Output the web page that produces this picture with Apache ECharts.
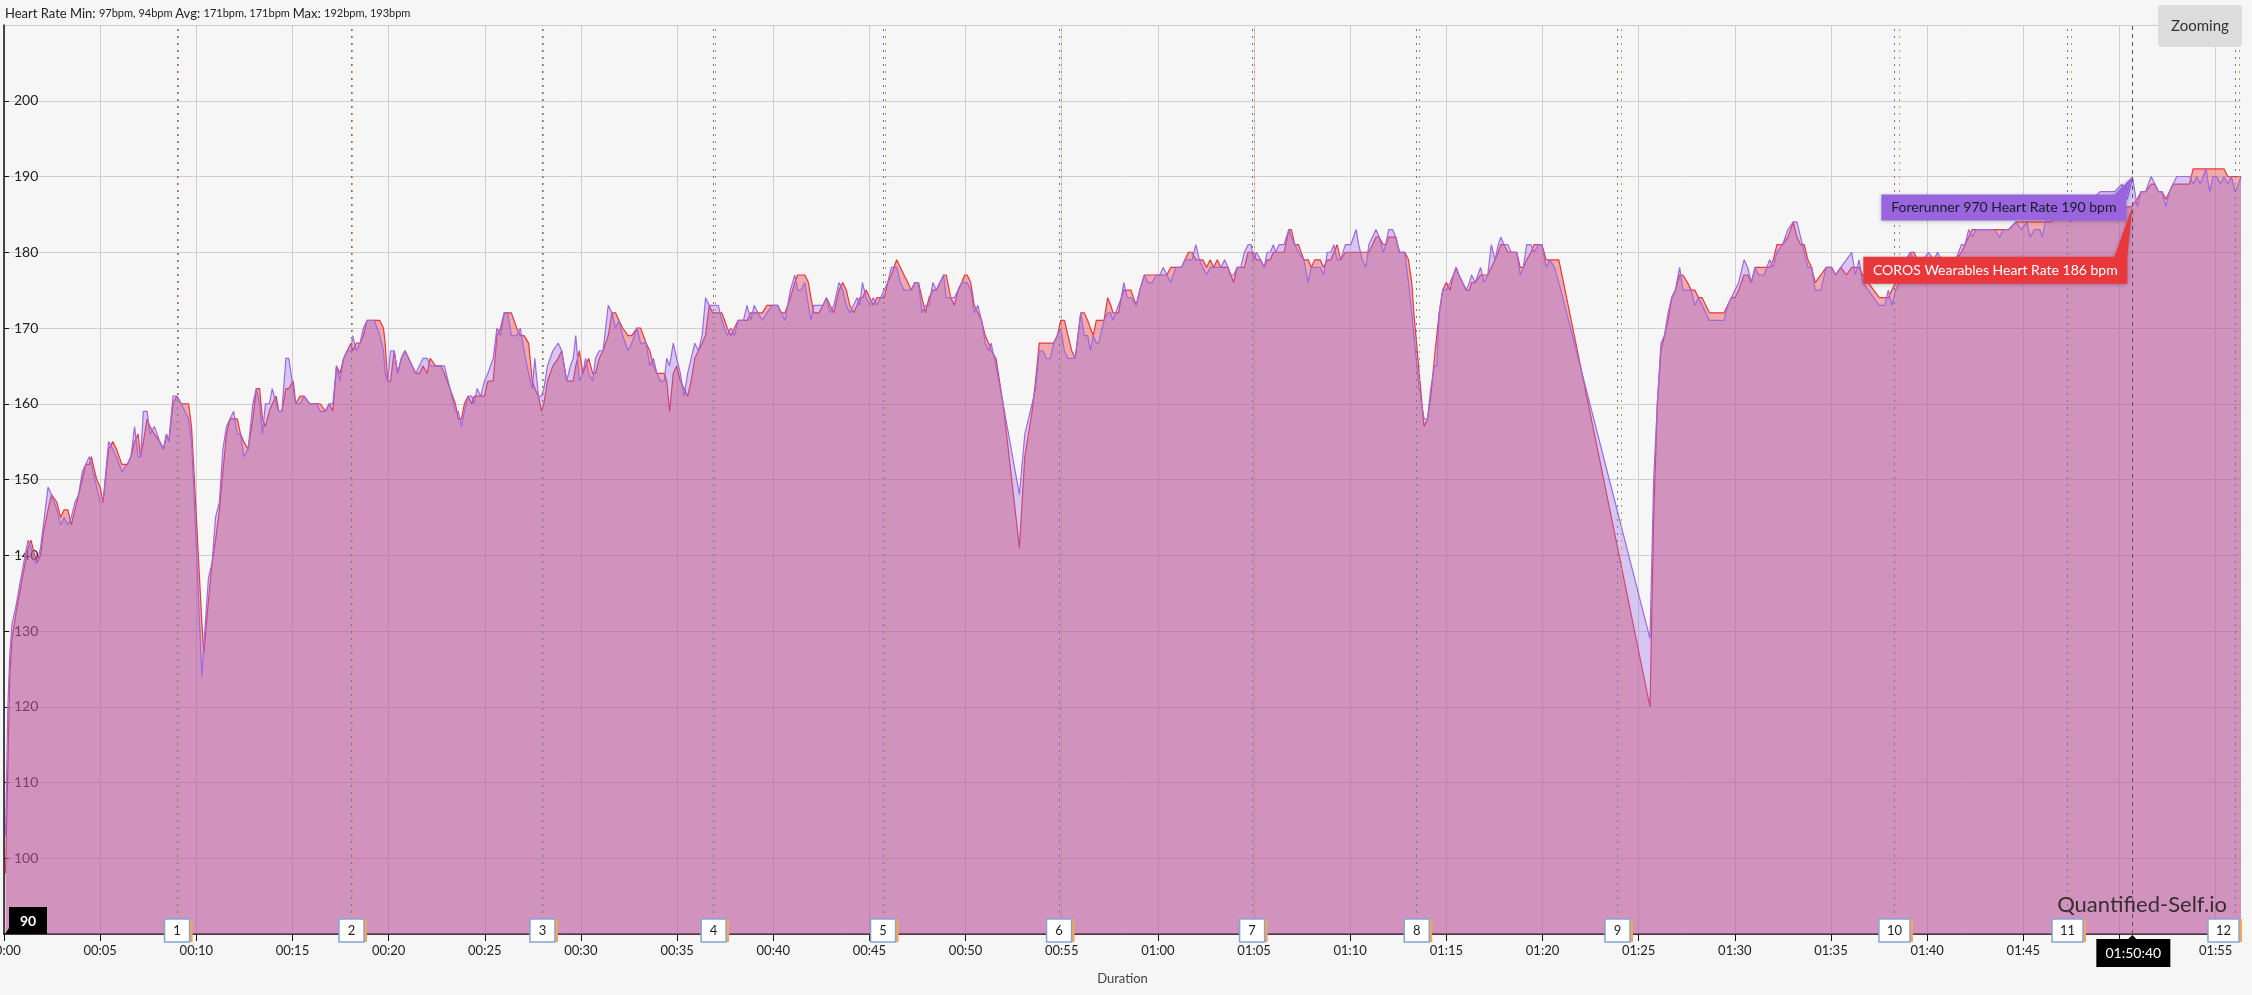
<!DOCTYPE html>
<html><head><meta charset="utf-8">
<script src="https://cdn.jsdelivr.net/npm/echarts@6/dist/echarts.min.js"></script>
<style>html,body{margin:0;padding:0;background:#f6f6f6;}#c{width:2252px;height:995px;}</style>
</head><body><div id="c"></div><script>
// ---- data (time in minutes, heart rate in bpm) ----
const timeMin = [
0.08,0.2,0.3,0.42,0.6,0.88,1.1,1.25,1.4,1.6,
1.72,1.9,2.05,2.29,2.47,2.75,2.94,3.13,3.32,3.5,
3.69,3.88,4.07,4.25,4.44,4.55,4.63,4.82,5.0,5.15,
5.44,5.66,5.85,6.13,6.41,6.6,6.79,6.97,7.1,7.25,
7.44,7.59,7.82,8.1,8.29,8.45,8.57,8.79,8.98,9.22,
9.6,9.75,9.88,10.29,10.39,10.63,10.82,11.0,11.2,11.38,
11.57,11.75,11.94,12.13,12.3,12.47,12.69,12.94,13.12,13.29,
13.44,13.59,13.8,13.95,14.15,14.29,14.45,14.66,14.81,15.04,
15.17,15.4,15.6,15.9,16.26,16.44,16.72,16.91,17.1,17.29,
17.47,17.66,17.85,18.04,18.13,18.32,18.51,18.69,18.88,19.26,
19.54,19.73,19.82,19.95,20.1,20.29,20.47,20.66,20.85,21.04,
21.41,21.6,21.79,22.0,22.16,22.44,22.72,22.9,23.19,23.47,
23.62,23.79,23.94,24.13,24.32,24.45,24.6,24.79,24.98,25.16,
25.44,25.63,25.82,26.01,26.19,26.38,26.66,26.85,27.04,27.28,
27.47,27.6,27.79,27.95,28.07,28.26,28.54,28.82,29.0,29.1,
29.26,29.45,29.6,29.73,29.92,30.1,30.24,30.4,30.61,30.76,
30.95,31.15,31.42,31.61,31.8,31.98,32.17,32.45,32.64,32.92,
33.1,33.39,33.58,33.77,33.95,34.14,34.33,34.46,34.61,34.8,
34.98,35.17,35.36,35.55,35.73,35.92,36.11,36.3,36.48,36.67,
36.85,37.14,37.33,37.47,37.61,37.8,37.98,38.17,38.45,38.64,
38.83,39.01,39.2,39.43,39.67,39.95,40.23,40.42,40.61,40.89,
41.12,41.27,41.45,41.64,41.83,41.96,42.11,42.39,42.58,42.77,
42.95,43.15,43.42,43.61,43.8,43.98,44.17,44.36,44.5,44.64,
44.83,45.02,45.2,45.39,45.58,45.77,45.95,46.14,46.42,46.61,
46.8,47.0,47.17,47.36,47.55,47.73,47.92,48.1,48.3,48.48,
48.67,48.86,48.99,49.23,49.42,49.61,49.8,49.95,50.08,50.27,
50.45,50.64,50.83,51.02,51.2,51.33,51.58,51.95,52.8,53.08,
53.27,53.46,53.64,53.83,54.02,54.2,54.4,54.58,54.77,54.95,
55.14,55.33,55.52,55.7,55.99,56.17,56.35,56.49,56.64,56.8,
56.92,57.2,57.39,57.55,57.67,57.8,57.95,58.1,58.23,58.4,
58.6,58.87,59.06,59.3,59.49,59.7,59.91,60.1,60.28,60.47,
60.66,60.94,61.22,61.41,61.59,61.78,61.97,62.16,62.34,62.53,
62.72,62.9,63.09,63.28,63.47,63.65,63.75,63.94,64.12,64.31,
64.5,64.69,64.85,64.97,65.12,65.34,65.53,65.68,65.85,66.0,
66.13,66.3,66.56,66.81,66.94,67.12,67.31,67.59,67.82,67.97,
68.16,68.44,68.62,68.81,69.0,69.15,69.32,69.5,69.75,70.03,
70.31,70.44,70.63,70.82,70.97,71.16,71.34,71.5,71.72,71.85,
72.0,72.2,72.37,72.56,72.84,73.03,73.2,73.31,73.59,73.84,
74.02,74.19,74.38,74.5,74.63,74.81,75.0,75.19,75.37,75.51,
75.65,75.84,76.03,76.2,76.31,76.5,76.78,76.97,77.15,77.34,
77.53,77.7,77.83,78.0,78.2,78.37,78.66,78.84,79.0,79.18,
79.4,79.56,79.78,79.97,80.19,80.38,80.62,80.85,85.59,85.78,
85.97,86.16,86.34,86.53,86.72,86.91,87.13,87.3,87.54,87.73,
87.92,88.11,88.3,88.49,88.68,88.87,89.06,89.25,89.44,89.63,
89.82,90.01,90.2,90.48,90.67,90.86,91.05,91.25,91.52,91.81,
92.0,92.19,92.48,92.76,93.04,93.23,93.42,93.61,93.8,93.99,
94.18,94.47,94.75,95.04,95.23,95.51,95.8,96.08,96.27,96.46,
96.65,96.94,97.22,97.51,97.79,97.98,98.17,98.36,98.55,98.74,
98.93,99.12,99.31,99.5,99.78,100.07,100.35,100.54,100.73,100.92,
101.2,101.49,101.78,101.97,102.16,102.35,102.54,102.73,102.92,103.2,
103.49,103.77,103.96,104.24,104.62,104.9,105.19,105.35,105.57,105.86,
105.99,106.14,106.43,106.71,106.9,107.09,107.47,107.85,108.23,108.61,
108.99,109.37,109.75,110.13,110.41,110.6,110.67,110.93,111.12,111.36,
111.65,111.84,112.03,112.22,112.41,112.6,112.79,112.98,113.17,113.4,
113.64,113.83,114.02,114.2,114.5,114.69,114.87,115.06,115.25,115.44,
115.63,115.82,116.01,116.2,116.32
];
const forerunnerHR = [
103,120,127,131,133,137,140,142,141,139,
139,141,144,149,148,146,144,145,144,145,
147,148,151,152,153,152,151,149,147,147,
155,154,153,151,152,153,157,153,153,159,
159,156,157,155,154,156,155,161,161,160,
158,155,148,124,128,137,139,145,147,154,
157,158,159,156,156,153,154,160,162,160,
156,160,160,162,160,159,159,166,166,162,
160,160,161,160,160,159,159,160,160,165,
163,166,167,167,169,167,168,170,171,171,
169,167,164,163,167,167,164,166,167,166,
164,165,166,166,165,165,165,165,162,159,
159,157,159,161,161,160,162,161,163,164,
166,170,169,172,172,169,169,170,167,164,
162,166,161,161,162,165,167,168,167,167,
163,165,166,169,163,164,166,164,163,166,
167,167,173,172,170,171,169,167,168,170,
168,168,165,166,164,163,163,166,165,168,
166,164,161,164,166,168,167,169,174,173,
173,173,171,170,169,170,169,171,171,173,
171,173,172,171,172,173,173,172,171,175,
177,175,175,176,173,171,173,173,173,174,
172,173,176,175,173,172,173,174,173,176,
174,173,174,173,174,175,176,178,178,176,
175,175,175,176,176,172,173,173,176,175,
176,177,174,174,174,175,176,176,176,175,
172,173,171,168,167,168,165,160,148,156,
158,160,162,167,167,166,166,168,169,170,
167,166,166,166,172,169,169,167,169,168,
168,171,172,172,171,172,173,174,176,174,
174,173,175,177,176,176,177,177,178,177,
176,178,178,179,179,179,181,179,178,177,
178,178,178,178,179,178,177,177,178,178,
180,181,181,179,180,179,178,180,180,181,
180,181,181,183,182,181,180,179,176,178,
178,178,177,180,180,181,179,179,181,181,
183,181,179,178,181,182,183,182,180,181,
183,183,182,180,180,176,172,169,162,158,
158,162,165,165,172,175,175,176,177,178,
177,176,175,176,177,176,178,176,177,181,
179,181,182,181,181,180,180,177,178,181,
181,180,181,181,178,179,178,176,129,150,
160,168,169,172,174,175,178,175,175,175,
173,174,173,172,171,171,171,171,171,173,
174,175,176,179,178,176,178,177,177,179,
178,180,181,183,184,184,182,180,178,178,
175,175,178,178,177,178,179,180,177,179,
176,175,174,173,173,175,173,175,176,177,
179,180,179,179,179,180,179,180,179,179,
179,179,181,181,183,182,183,183,183,183,
183,182,183,183,184,183,184,182,183,183,
182,184,185,185,185,186,184,186,186,187,
188,188,188,189,187,189,190,186,188,188,
190,189,188,188,186,188,189,190,190,190,
190,189,190,189,191,188,190,190,189,190,
189,190,188,189,190
];
const corosHR = [
98,112,124,129,132,136,139,141,142,140,
139,140,143,146,148,147,145,146,146,144,
146,148,150,152,152,153,152,150,149,147,
154,155,154,152,152,153,155,156,153,155,
158,157,156,155,154,156,155,160,161,160,
160,157,151,131,127,134,139,142,146,151,
156,158,158,158,156,155,154,158,162,162,
158,157,159,160,161,159,159,162,162,163,
160,161,161,160,160,160,159,160,159,165,
164,166,167,168,167,168,168,169,171,171,
171,170,168,163,163,167,164,166,167,166,
164,164,165,164,166,165,165,164,162,160,
158,158,160,161,160,161,161,161,161,163,
163,169,170,172,172,172,170,169,169,168,
163,162,161,159,160,163,165,166,167,167,
163,163,163,165,167,164,165,166,164,164,
166,167,169,172,172,171,170,169,169,170,
170,168,167,165,164,164,164,163,159,164,
165,163,162,161,163,166,167,168,169,173,
172,172,172,171,170,169,170,171,171,171,
172,172,172,172,173,173,173,172,172,174,
176,177,177,177,176,174,172,172,173,174,
173,172,175,176,175,173,172,173,174,174,
175,174,173,174,174,174,176,177,179,178,
177,176,175,176,176,174,172,174,175,175,
176,177,177,174,173,175,176,177,177,176,
173,172,171,169,168,167,166,160,141,153,
156,159,163,168,168,168,168,168,169,171,
171,169,167,166,172,172,171,170,169,171,
171,171,174,173,172,172,172,174,175,175,
175,173,175,177,177,177,177,177,177,177,
178,178,178,179,180,180,179,179,179,178,
179,178,179,178,178,178,178,176,178,178,
178,180,180,180,179,179,178,179,179,180,
180,180,180,183,183,181,181,179,179,178,
179,179,178,179,179,180,181,179,180,180,
180,180,180,180,180,181,182,182,181,181,
182,182,182,180,180,179,176,172,164,157,
158,161,166,169,172,175,176,175,177,178,
177,176,175,175,176,176,177,177,177,178,
179,180,181,181,180,180,180,178,178,179,
180,181,181,181,179,179,179,179,120,145,
160,167,169,171,174,175,177,177,176,175,
175,174,174,173,172,172,172,172,172,173,
174,174,175,177,177,176,178,178,178,178,
179,181,181,182,184,182,181,181,179,178,
176,177,178,178,177,178,177,178,178,178,
177,176,175,174,174,174,175,176,176,178,
179,180,180,179,179,179,179,179,179,179,
179,179,180,181,182,183,183,183,183,183,
183,183,183,183,184,184,184,184,184,184,
184,184,184,185,185,185,185,185,186,186,
186,186,186,186,186,186,186,187,188,188,
189,189,188,188,187,188,189,189,189,189,
189,191,191,191,191,191,191,191,191,191,
190,190,190,190,190
];
const seriesNames = ['COROS Wearables', 'Forerunner 970'];
const forerunnerLapTimes = [9.0, 18.07, 28.0, 36.9, 45.71, 54.86, 64.9, 73.46, 83.9, 98.3, 107.3, 116.0];
const corosLapTimes = [9.05, 18.12, 28.05, 36.97, 45.84, 54.99, 65.0, 73.6, 84.1, 98.55, 107.5, 116.25];
const lapLabels = ['1','2','3','4','5','6','7','8','9','10','11','12'];
const cursorTime = 110.67;
const cursorTimeLabel = '01:50:40';
const cursorForerunnerHR = 190;
const cursorCorosHR = 186;
const cursorYLabel = '90';
const titleParts = {name: 'Heart Rate', min: '97bpm, 94bpm', avg: '171bpm, 171bpm', max: '192bpm, 193bpm'};
const yMin = 90, yMax = 210, yStep = 10;
const xStep = 5;

// ---- chart ----
const FONT = 'Lato';
const pad2 = n => (n < 10 ? '0' : '') + n;
const fmtMin = v => pad2(Math.floor(v / 60)) + ':' + pad2(Math.round(v % 60));
const corosData = timeMin.map((t, i) => [t, corosHR[i]]);
const forerunnerData = timeMin.map((t, i) => [t, forerunnerHR[i]]);
const xMax = timeMin[timeMin.length - 1];

const chart = echarts.init(document.getElementById('c'));
const option = {
  animation: false,
  backgroundColor: '#f6f6f6',
  textStyle: {fontFamily: FONT},
  grid: {left: 4, right: 11, top: 25, bottom: 61, containLabel: false, outerBoundsMode: 'none'},
  xAxis: {
    type: 'value', min: 0, max: xMax, interval: xStep,
    name: 'Duration', nameLocation: 'middle', nameGap: 38,
    nameTextStyle: {fontFamily: FONT, fontSize: 13, color: '#444'},
    axisLine: {show: true, onZero: false, lineStyle: {color: '#111', width: 1.5}},
    axisTick: {show: true, inside: false, length: 7, lineStyle: {color: '#111'}},
    axisLabel: {formatter: fmtMin, fontFamily: FONT, fontSize: 13, color: '#222', margin: 10, showMaxLabel: false},
    splitLine: {show: true, showMaxLine: false, lineStyle: {color: '#cfcfcf', width: 1}}
  },
  yAxis: {
    type: 'value', min: yMin, max: yMax, interval: yStep,
    axisLine: {show: true, lineStyle: {color: '#111', width: 1.5}},
    axisTick: {show: true, inside: true, length: 5, lineStyle: {color: '#111'}},
    axisLabel: {inside: true, margin: 10, fontFamily: FONT, fontSize: 14, color: '#222', showMinLabel: false, showMaxLabel: false},
    splitLine: {show: true, lineStyle: {color: '#cfcfcf', width: 1}}
  },
  series: [
    {
      name: seriesNames[0], type: 'line', data: corosData, showSymbol: false, symbol: 'none',
      sampling: null, z: 2,
      lineStyle: {color: '#e8383c', width: 1.2},
      itemStyle: {color: '#e8383c'},
      areaStyle: {color: 'rgba(235,55,60,0.40)', opacity: 1, origin: 'start'},
      markLine: {
        silent: true, symbol: ['none', 'none'], animation: false, label: {show: false},
        emphasis: {disabled: true},
        lineStyle: {type: [2, 5], color: '#e8923a', width: 1},
        data: corosLapTimes.map(t => ({xAxis: t}))
      }
    },
    {
      name: seriesNames[1], type: 'line', data: forerunnerData, showSymbol: false, symbol: 'none',
      sampling: null, z: 3,
      lineStyle: {color: '#9a6ae0', width: 1.2},
      itemStyle: {color: '#9a6ae0'},
      areaStyle: {color: 'rgba(150,100,230,0.33)', opacity: 1, origin: 'start'},
      markLine: {
        silent: true, symbol: ['none', 'none'], animation: false, label: {show: false},
        emphasis: {disabled: true},
        data: forerunnerLapTimes.map(t => ({xAxis: t, lineStyle: {type: [2, 5], color: '#4f7fc0', width: 1}}))
          .concat([{xAxis: cursorTime, lineStyle: {type: [4, 4], color: '#555', width: 1}}])
      }
    }
  ]
};
chart.setOption(option);

const px = (x, y) => chart.convertToPixel({gridIndex: 0}, [x, y]);
const pF = px(cursorTime, cursorForerunnerHR);
const pC = px(cursorTime, cursorCorosHR);
const pB = px(cursorTime, yMin);
const p0 = px(0, yMin);
const pTop = px(xMax, yMax);

function callout(tip, L, R, T, B, baseW, sideDrop) {
  return [[L, T], [R - baseW, T], [tip[0], tip[1]], [R, T + sideDrop], [R, B], [L, B]];
}
const fL = pF[0] - 251, fR = pF[0] - 6, fT = pF[1] + 18, fB = pF[1] + 44;
const cL = pC[0] - 269, cR = pC[0] - 5, cT = pC[1] + 50, cB = pC[1] + 77;
const Z = 200;

const lapGraphics = [];
forerunnerLapTimes.forEach((t, i) => {
  const p = px(t, yMin);
  const w = lapLabels[i].length > 1 ? 31 : 25;
  let left = p[0] - w / 2;
  const maxRight = pTop[0] + 1 - 3;
  if (left + w > maxRight) left = maxRight - w;
  const top = p[1] - 15, h = 23;
  lapGraphics.push(
    {type: 'rect', z: Z, shape: {x: left + 3, y: top, width: w, height: h}, style: {fill: '#f3a65a'}},
    {type: 'rect', z: Z + 1, shape: {x: left, y: top, width: w, height: h}, style: {fill: '#ffffff', stroke: '#86a5d4', lineWidth: 1.5}},
    {type: 'text', z: Z + 2, x: left + w / 2, y: top + h / 2 + 0.5, style: {text: lapLabels[i], fontFamily: FONT, fontSize: 13, fill: '#222', align: 'center', verticalAlign: 'middle'}}
  );
});

chart.setOption({
  graphic: lapGraphics.concat([
    {
      type: 'text', left: 5, top: 7, z: Z,
      style: {
        text: '{a|' + titleParts.name + ' Min: }{b|' + titleParts.min + ' }{a|Avg: }{b|' + titleParts.avg + ' }{a|Max: }{b|' + titleParts.max + '}',
        rich: {
          a: {fontFamily: FONT, fontSize: 13, fill: '#222'},
          b: {fontFamily: FONT, fontSize: 11, fill: '#222'}
        }
      }
    },
    {type: 'rect', z: Z, shape: {x: pTop[0] - 83, y: 5, width: 84, height: 42, r: 4}, style: {fill: '#dcdcdc'}},
    {type: 'text', z: Z + 1, x: pTop[0] - 41, y: 26, style: {text: 'Zooming', fontFamily: FONT, fontSize: 15, fill: '#333', align: 'center', verticalAlign: 'middle'}},
    {
      type: 'text', z: Z + 5, x: pTop[0] - 14, y: p0[1] - 29,
      style: {text: 'Quantified-Self.io', fontFamily: FONT, fontSize: 22, fill: 'rgba(35,35,35,0.9)', align: 'right', verticalAlign: 'middle'}
    },
    {type: 'polygon', z: Z, shape: {points: [[p0[0] + 1, p0[1]], [p0[0] + 5, p0[1] - 6], [p0[0] + 5, p0[1]]]}, style: {fill: '#000'}},
    {type: 'rect', z: Z, shape: {x: p0[0] + 5, y: p0[1] - 27, width: 38, height: 27}, style: {fill: '#000'}},
    {type: 'text', z: Z + 1, x: p0[0] + 24, y: p0[1] - 13, style: {text: cursorYLabel, fontFamily: FONT, fontSize: 14, fontWeight: 'bold', fill: '#fff', align: 'center', verticalAlign: 'middle'}},
    {type: 'polygon', z: Z, shape: {points: [[pB[0] - 5, pB[1] + 6], [pB[0], pB[1] + 1], [pB[0] + 5, pB[1] + 6]]}, style: {fill: '#000'}},
    {type: 'rect', z: Z, shape: {x: pB[0] - 36, y: pB[1] + 5, width: 74, height: 28}, style: {fill: '#000'}},
    {type: 'text', z: Z + 1, x: pB[0] + 1, y: pB[1] + 19, style: {text: cursorTimeLabel, fontFamily: FONT, fontSize: 14, fill: '#fff', align: 'center', verticalAlign: 'middle'}},
    {type: 'polygon', z: Z + 6, shape: {points: callout(pF, fL, fR, fT, fB, 12, 6)},
     style: {fill: '#9865de', shadowBlur: 4, shadowColor: 'rgba(0,0,0,0.25)', shadowOffsetY: 1}},
    {type: 'text', z: Z + 7, x: (fL + fR) / 2, y: (fT + fB) / 2, style: {text: seriesNames[1] + ' Heart Rate ' + cursorForerunnerHR + ' bpm', fontFamily: FONT, fontSize: 14, fill: '#1c1a26', align: 'center', verticalAlign: 'middle'}},
    {type: 'polygon', z: Z + 6, shape: {points: callout(pC, cL, cR, cT, cB, 13, 0)},
     style: {fill: '#e8383c', shadowBlur: 4, shadowColor: 'rgba(0,0,0,0.25)', shadowOffsetY: 1}},
    {type: 'text', z: Z + 7, x: (cL + cR) / 2, y: (cT + cB) / 2, style: {text: seriesNames[0] + ' Heart Rate ' + cursorCorosHR + ' bpm', fontFamily: FONT, fontSize: 14, fill: '#ffffff', align: 'center', verticalAlign: 'middle'}}
  ])
});
</script></body></html>
